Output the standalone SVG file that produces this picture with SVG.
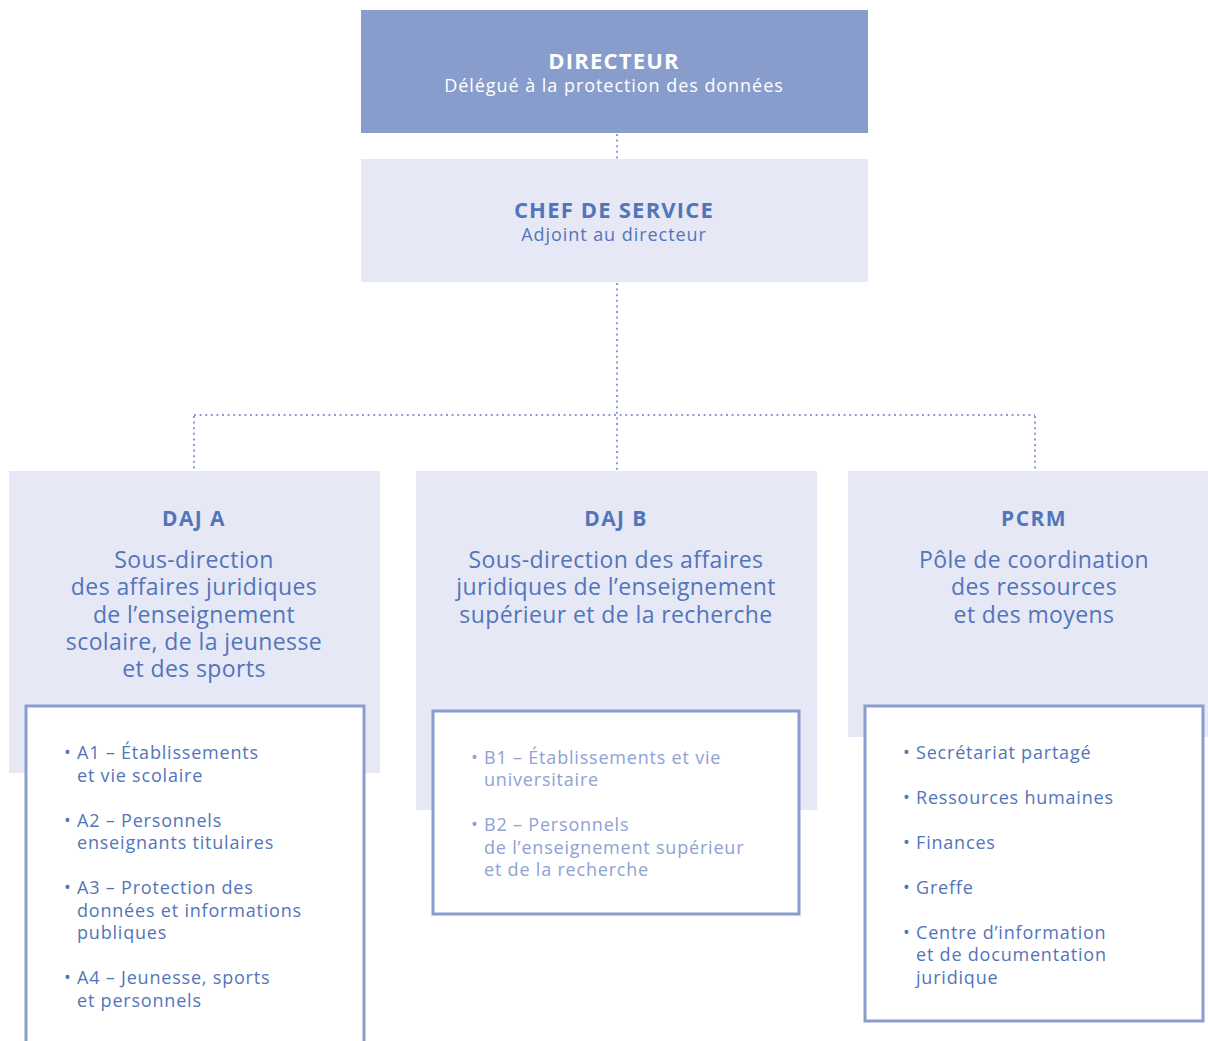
<svg xmlns="http://www.w3.org/2000/svg" width="1208" height="1041" viewBox="0 0 1208 1041">
<style>
.t{font-family:"Open Sans","Liberation Sans",sans-serif;fill:#5275ba}
.b{font-weight:700;font-size:22px;letter-spacing:1.2px;text-anchor:middle}
.s{font-size:18px;letter-spacing:0.95px;text-anchor:middle}
.w{fill:#ffffff}
.light{fill:#8ea2d3}
.hd{font-size:21px;font-weight:700;text-anchor:middle;letter-spacing:1.4px}
.sub{font-size:23px;text-anchor:middle;letter-spacing:0.4px}
.li{font-size:18px;letter-spacing:0.8px}
.con{fill:none;stroke:#8a9dcf;stroke-width:2;stroke-dasharray:2 3.6}
.pale{fill:#e6e8f5}
.lb{fill:#ffffff;stroke:#8a9dcf;stroke-width:3}
</style>
<g id="connectors">
<line class="con" x1="617" y1="134" x2="617" y2="159"/>
<line class="con" x1="617" y1="283" x2="617" y2="470"/>
<line class="con" x1="194" y1="415" x2="1035" y2="415"/>
<line class="con" x1="194" y1="416" x2="194" y2="470"/>
<line class="con" x1="1035" y1="416" x2="1035" y2="470"/>
</g>
<g id="directeur">
<rect x="361" y="10" width="507" height="123" fill="#899dcc"/>
<text class="t w b" x="614" y="69">DIRECTEUR</text>
<text class="t w s" x="614" y="92">Délégué à la protection des données</text>
</g>
<g id="chef">
<rect class="pale" x="361" y="159" width="507" height="123"/>
<text class="t b" x="614" y="218">CHEF DE SERVICE</text>
<text class="t s" x="614" y="241">Adjoint au directeur</text>
</g>
<g id="daja">
<rect class="pale" x="9" y="471" width="371" height="302"/>
<text class="t hd" x="194" y="526">DAJ A</text>
<text class="t sub" x="194" y="568">Sous-direction</text>
<text class="t sub" x="194" y="595">des affaires juridiques</text>
<text class="t sub" x="194" y="623">de l’enseignement</text>
<text class="t sub" x="194" y="650">scolaire, de la jeunesse</text>
<text class="t sub" x="194" y="677">et des sports</text>
</g>
<g id="dajb">
<rect class="pale" x="416" y="471" width="401" height="339"/>
<text class="t hd" x="616" y="526">DAJ B</text>
<text class="t sub" x="616" y="568">Sous-direction des affaires</text>
<text class="t sub" x="616" y="595">juridiques de l’enseignement</text>
<text class="t sub" x="616" y="623">supérieur et de la recherche</text>
</g>
<g id="pcrm">
<rect class="pale" x="848" y="471" width="360" height="266"/>
<text class="t hd" x="1034" y="526">PCRM</text>
<text class="t sub" x="1034" y="568">Pôle de coordination</text>
<text class="t sub" x="1034" y="595">des ressources</text>
<text class="t sub" x="1034" y="623">et des moyens</text>
</g>
<g id="liste-a">
<rect class="lb" x="26" y="706" width="338" height="345"/>
<text class="t li" x="64" y="759">• A1 – Établissements</text>
<text class="t li" x="77" y="782">et vie scolaire</text>
<text class="t li" x="64" y="827">• A2 – Personnels</text>
<text class="t li" x="77" y="849">enseignants titulaires</text>
<text class="t li" x="64" y="894">• A3 – Protection des</text>
<text class="t li" x="77" y="917">données et informations</text>
<text class="t li" x="77" y="939">publiques</text>
<text class="t li" x="64" y="984">• A4 – Jeunesse, sports</text>
<text class="t li" x="77" y="1007">et personnels</text>
</g>
<g id="liste-b">
<rect class="lb" x="433" y="711" width="366" height="203"/>
<text class="t li light" x="471" y="764">• B1 – Établissements et vie</text>
<text class="t li light" x="484" y="786">universitaire</text>
<text class="t li light" x="471" y="831">• B2 – Personnels</text>
<text class="t li light" x="484" y="854">de l’enseignement supérieur</text>
<text class="t li light" x="484" y="876">et de la recherche</text>
</g>
<g id="liste-pcrm">
<rect class="lb" x="865" y="706" width="338" height="315"/>
<text class="t li" x="903" y="759">• Secrétariat partagé</text>
<text class="t li" x="903" y="804">• Ressources humaines</text>
<text class="t li" x="903" y="849">• Finances</text>
<text class="t li" x="903" y="894">• Greffe</text>
<text class="t li" x="903" y="939">• Centre d’information</text>
<text class="t li" x="916" y="961">et de documentation</text>
<text class="t li" x="916" y="984">juridique</text>
</g>
</svg>
